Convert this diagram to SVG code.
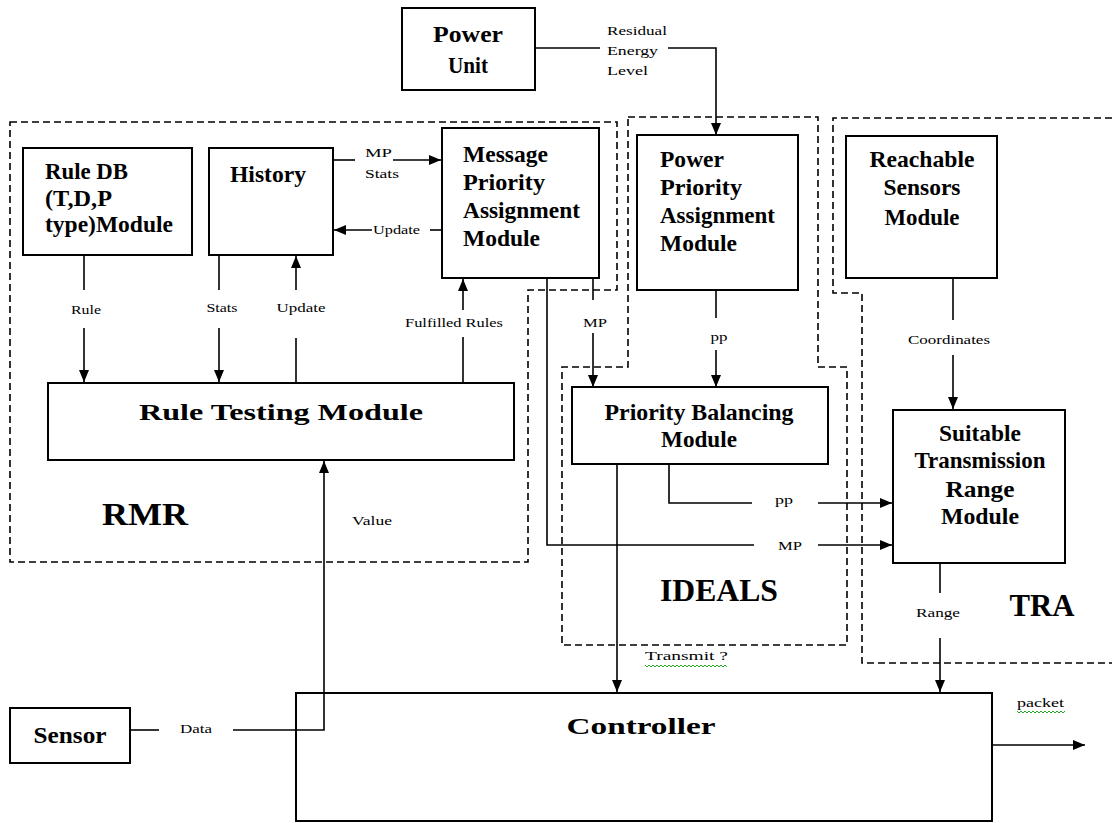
<svg xmlns="http://www.w3.org/2000/svg" width="1112" height="823" viewBox="0 0 1112 823">
<defs>
<marker id="ah" viewBox="0 0 12 10" refX="12" refY="5" markerWidth="12" markerHeight="10" markerUnits="userSpaceOnUse" orient="auto">
<path d="M0,0 L12,5 L0,10 Z" fill="#000"/>
</marker>
</defs>
<style>
.box{fill:#fff;stroke:#000;stroke-width:2}
.dash{fill:none;stroke:#000;stroke-width:1.6;stroke-dasharray:7 4}
.ln{fill:none;stroke:#000;stroke-width:1.6}
.ar{fill:none;stroke:#000;stroke-width:1.6;marker-end:url(#ah)}
.nt{font-family:"Liberation Serif","Times New Roman",serif;font-weight:bold;font-size:23px;fill:#000}
.big{font-family:"Liberation Serif","Times New Roman",serif;font-weight:bold;font-size:31px;fill:#000}
.lb{font-family:"Liberation Serif","Times New Roman",serif;font-size:13px;fill:#000}
.wavy{fill:none;stroke:#2a2;stroke-width:1}
</style>
<rect width="1112" height="823" fill="#fff"/>

<g id="regions">
<path class="dash" d="M10,122 L617,122 L617,290 L528,290 L528,562 L10,562 Z"/>
<path class="dash" d="M628,117 L818,117 L818,367 L847,367 L847,645 L562,645 L562,367 L628,367 Z"/>
<path class="dash" d="M1112,118 L833,118 L833,293 L862,293 L862,663 L1112,663"/>
<text class="big" x="145" y="525" text-anchor="middle" textLength="86" lengthAdjust="spacingAndGlyphs">RMR</text>
<text class="big" x="719" y="601" text-anchor="middle" textLength="118" lengthAdjust="spacingAndGlyphs">IDEALS</text>
<text class="big" x="1042" y="616" text-anchor="middle" textLength="65" lengthAdjust="spacingAndGlyphs">TRA</text>
</g>

<g id="power-unit">
<rect class="box" x="402" y="8" width="133" height="82"/>
<text class="nt" x="468" y="42" text-anchor="middle" font-size="24" textLength="70" lengthAdjust="spacingAndGlyphs">Power</text>
<text class="nt" x="468" y="73" text-anchor="middle" font-size="24" textLength="40" lengthAdjust="spacingAndGlyphs">Unit</text>
</g>

<g id="rule-db">
<rect class="box" x="23" y="148" width="169" height="107"/>
<text class="nt" x="45" y="179" textLength="83" lengthAdjust="spacingAndGlyphs">Rule DB</text>
<text class="nt" x="45" y="206" textLength="67" lengthAdjust="spacingAndGlyphs">(T,D,P</text>
<text class="nt" x="45" y="232" textLength="128" lengthAdjust="spacingAndGlyphs">type)Module</text>
</g>

<g id="history">
<rect class="box" x="209" y="148" width="124" height="107"/>
<text class="nt" x="268" y="182" text-anchor="middle" textLength="76" lengthAdjust="spacingAndGlyphs">History</text>
</g>

<g id="message-priority">
<rect class="box" x="442" y="128" width="157" height="150"/>
<text class="nt" x="463" y="162" textLength="85" lengthAdjust="spacingAndGlyphs">Message</text>
<text class="nt" x="463" y="190" textLength="82" lengthAdjust="spacingAndGlyphs">Priority</text>
<text class="nt" x="463" y="218" textLength="117" lengthAdjust="spacingAndGlyphs">Assignment</text>
<text class="nt" x="463" y="246" textLength="77" lengthAdjust="spacingAndGlyphs">Module</text>
</g>

<g id="power-priority">
<rect class="box" x="637" y="135" width="161" height="155"/>
<text class="nt" x="660" y="167" textLength="64" lengthAdjust="spacingAndGlyphs">Power</text>
<text class="nt" x="660" y="195" textLength="82" lengthAdjust="spacingAndGlyphs">Priority</text>
<text class="nt" x="660" y="223" textLength="115" lengthAdjust="spacingAndGlyphs">Assignment</text>
<text class="nt" x="660" y="251" textLength="77" lengthAdjust="spacingAndGlyphs">Module</text>
</g>

<g id="reachable-sensors">
<rect class="box" x="846" y="136" width="151" height="142"/>
<text class="nt" x="922" y="167" text-anchor="middle" textLength="105" lengthAdjust="spacingAndGlyphs">Reachable</text>
<text class="nt" x="922" y="195" text-anchor="middle" textLength="77" lengthAdjust="spacingAndGlyphs">Sensors</text>
<text class="nt" x="922" y="225" text-anchor="middle" textLength="75" lengthAdjust="spacingAndGlyphs">Module</text>
</g>

<g id="rule-testing">
<rect class="box" x="48" y="383" width="466" height="77"/>
<text class="nt" x="281" y="420" text-anchor="middle" font-size="30" textLength="284" lengthAdjust="spacingAndGlyphs">Rule Testing Module</text>
</g>

<g id="priority-balancing">
<rect class="box" x="572" y="387" width="256" height="77"/>
<text class="nt" x="699" y="420" text-anchor="middle" textLength="189" lengthAdjust="spacingAndGlyphs">Priority Balancing</text>
<text class="nt" x="699" y="447" text-anchor="middle" textLength="76" lengthAdjust="spacingAndGlyphs">Module</text>
</g>

<g id="suitable-range">
<rect class="box" x="893" y="410" width="172" height="153"/>
<text class="nt" x="980" y="441" text-anchor="middle" textLength="82" lengthAdjust="spacingAndGlyphs">Suitable</text>
<text class="nt" x="980" y="468" text-anchor="middle" textLength="131" lengthAdjust="spacingAndGlyphs">Transmission</text>
<text class="nt" x="980" y="497" text-anchor="middle" textLength="69" lengthAdjust="spacingAndGlyphs">Range</text>
<text class="nt" x="980" y="524" text-anchor="middle" textLength="78" lengthAdjust="spacingAndGlyphs">Module</text>
</g>

<g id="sensor">
<rect class="box" x="10" y="708" width="120" height="55"/>
<text class="nt" x="70" y="743" text-anchor="middle" font-size="24" textLength="73" lengthAdjust="spacingAndGlyphs">Sensor</text>
</g>

<g id="controller">
<rect class="box" x="296" y="693" width="696" height="128" style="fill:none"/>
<text class="nt" x="641" y="734" text-anchor="middle" font-size="30" textLength="149" lengthAdjust="spacingAndGlyphs">Controller</text>
</g>

<g id="connectors">
<path class="ln" d="M535,48 L600,48"/>
<path class="ar" d="M668,48 L716,48 L716,135"/>
<text class="lb" x="607" y="35" textLength="60" lengthAdjust="spacingAndGlyphs">Residual</text>
<text class="lb" x="607" y="55" textLength="51" lengthAdjust="spacingAndGlyphs">Energy</text>
<text class="lb" x="607" y="75" textLength="41" lengthAdjust="spacingAndGlyphs">Level</text>
<path class="ln" d="M333,160 L355,160"/>
<path class="ar" d="M393,160 L441,160"/>
<text class="lb" x="365" y="157" textLength="27" lengthAdjust="spacingAndGlyphs">MP</text>
<text class="lb" x="365" y="178" textLength="34" lengthAdjust="spacingAndGlyphs">Stats</text>
<path class="ln" d="M442,230 L430,230"/>
<path class="ar" d="M372,230 L334,230"/>
<text class="lb" x="373" y="234" textLength="47" lengthAdjust="spacingAndGlyphs">Update</text>
<path class="ln" d="M84,255 L84,290"/>
<path class="ar" d="M84,328 L84,382"/>
<text class="lb" x="86" y="314" text-anchor="middle" textLength="30" lengthAdjust="spacingAndGlyphs">Rule</text>
<path class="ln" d="M219,255 L219,290"/>
<path class="ar" d="M219,328 L219,382"/>
<text class="lb" x="222" y="312" text-anchor="middle" textLength="31" lengthAdjust="spacingAndGlyphs">Stats</text>
<path class="ln" d="M296,382 L296,338"/>
<path class="ar" d="M296,290 L296,256"/>
<text class="lb" x="301" y="312" text-anchor="middle" textLength="49" lengthAdjust="spacingAndGlyphs">Update</text>
<path class="ln" d="M463,382 L463,337"/>
<path class="ar" d="M463,310 L463,279"/>
<text class="lb" x="405" y="327" textLength="98" lengthAdjust="spacingAndGlyphs">Fulfilled Rules</text>
<path class="ln" d="M593,278 L593,300"/>
<path class="ar" d="M593,333 L593,387"/>
<text class="lb" x="595" y="327" text-anchor="middle" textLength="24" lengthAdjust="spacingAndGlyphs">MP</text>
<path class="ln" d="M716,290 L716,318"/>
<path class="ar" d="M716,350 L716,387"/>
<text class="lb" x="719" y="341" text-anchor="middle" textLength="17" lengthAdjust="spacingAndGlyphs">pp</text>
<path class="ln" d="M953,278 L953,320"/>
<path class="ar" d="M953,355 L953,409"/>
<text class="lb" x="949" y="344" text-anchor="middle" textLength="82" lengthAdjust="spacingAndGlyphs">Coordinates</text>
<path class="ln" d="M669,464 L669,503 L752,503"/>
<path class="ar" d="M818,503 L892,503"/>
<text class="lb" x="784" y="504" text-anchor="middle" textLength="18" lengthAdjust="spacingAndGlyphs">pp</text>
<path class="ln" d="M547,278 L547,545 L754,545"/>
<path class="ar" d="M818,545 L892,545"/>
<text class="lb" x="790" y="550" text-anchor="middle" textLength="24" lengthAdjust="spacingAndGlyphs">MP</text>
<path class="ar" d="M617,464 L617,692"/>
<text class="lb" x="645" y="660" textLength="83" lengthAdjust="spacingAndGlyphs">Transmit ?</text>
<path class="wavy" d="M645,665 l2,2 l2,-2 l2,2 l2,-2 l2,2 l2,-2 l2,2 l2,-2 l2,2 l2,-2 l2,2 l2,-2 l2,2 l2,-2 l2,2 l2,-2 l2,2 l2,-2 l2,2 l2,-2 l2,2 l2,-2 l2,2 l2,-2 l2,2 l2,-2 l2,2 l2,-2 l2,2 l2,-2 l2,2 l2,-2 l2,2 l2,-2 l2,2 l2,-2 l2,2 l2,-2 l2,2 l2,-2 l2,2"/>
<path class="ln" d="M940,563 L940,593"/>
<path class="ar" d="M940,638 L940,692"/>
<text class="lb" x="938" y="617" text-anchor="middle" textLength="44" lengthAdjust="spacingAndGlyphs">Range</text>
<path class="ln" d="M130,730 L159,730"/>
<path class="ar" d="M233,730 L324,730 L324,461"/>
<text class="lb" x="180" y="733" textLength="32" lengthAdjust="spacingAndGlyphs">Data</text>
<text class="lb" x="352" y="525" textLength="40" lengthAdjust="spacingAndGlyphs">Value</text>
<path class="ar" d="M992,745 L1085,745"/>
<text class="lb" x="1017" y="707" textLength="47" lengthAdjust="spacingAndGlyphs">packet</text>
<path class="wavy" d="M1017,711 l2,2 l2,-2 l2,2 l2,-2 l2,2 l2,-2 l2,2 l2,-2 l2,2 l2,-2 l2,2 l2,-2 l2,2 l2,-2 l2,2 l2,-2 l2,2 l2,-2 l2,2 l2,-2 l2,2 l2,-2 l2,2 l2,-2"/>
</g>
</svg>
